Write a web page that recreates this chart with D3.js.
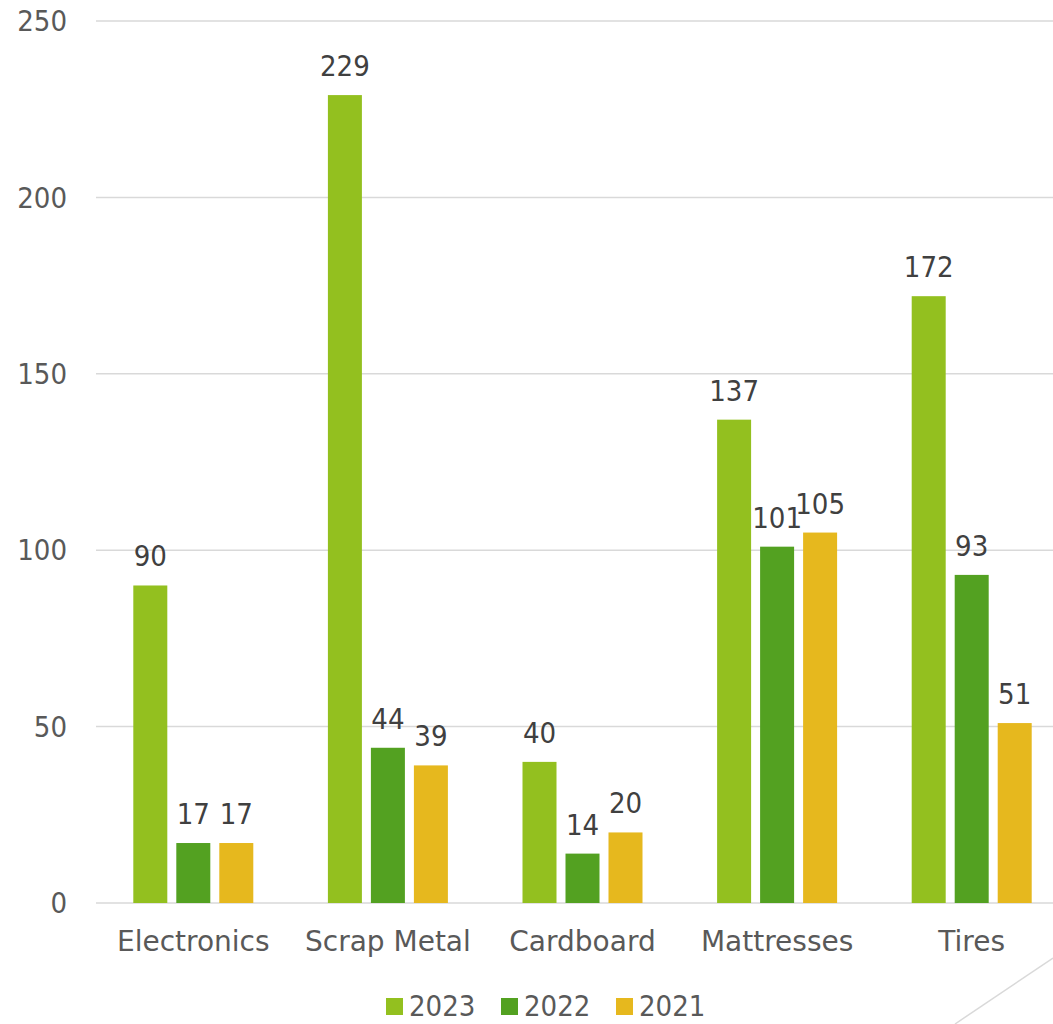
<!DOCTYPE html>
<html>
<head>
<meta charset="utf-8">
<script src="https://cdn.jsdelivr.net/npm/d3@7"></script>
<style>
  body { margin: 0; background: #fff; }
  svg { display: block; }
</style>
</head>
<body>
<div id="chart"></div>
<script>
const categories = ["Electronics", "Scrap Metal", "Cardboard", "Mattresses", "Tires"];
const years = ["2023", "2022", "2021"];
const values2023 = [90, 229, 40, 137, 172];
const values2022 = [17, 44, 14, 101, 93];
const values2021 = [17, 39, 20, 105, 51];
const yTicks = [0, 50, 100, 150, 200, 250];

const colors = { "2023": "#93c01f", "2022": "#53a121", "2021": "#e6b81e" };
const seriesVals = { "2023": values2023, "2022": values2022, "2021": values2021 };

const W = 1053, H = 1024;
const numFont = "'DejaVu Sans Condensed', 'DejaVu Sans', sans-serif";
const catFont = "'DejaVu Sans', sans-serif";

const svg = d3.select("#chart").append("svg").attr("width", W).attr("height", H);

const x0 = d3.scaleBand().domain(categories).range([96, 1069]);
const x1 = d3.scaleBand().domain(years).range([x0.bandwidth() / 2 - 60, x0.bandwidth() / 2 + 60]).paddingInner(9 / 43);
const y = d3.scaleLinear().domain([0, 250]).range([903, 21]);

// gridlines
svg.append("g").selectAll("line").data(yTicks).join("line")
  .attr("x1", 96).attr("x2", W)
  .attr("y1", d => y(d)).attr("y2", d => y(d))
  .attr("stroke", "#d9d9d9").attr("stroke-width", 1.5);

// y tick labels
svg.append("g").selectAll("text").data(yTicks).join("text")
  .attr("x", 67).attr("y", d => y(d)).attr("dy", "0.35em")
  .attr("text-anchor", "end")
  .attr("font-family", numFont).attr("font-size", 29).attr("fill", "#595959")
  .text(d => d);

// bars
const rows = categories.map((c, i) => ({ cat: c, vals: years.map(yr => ({ year: yr, v: seriesVals[yr][i] })) }));
const groups = svg.append("g").selectAll("g").data(rows).join("g")
  .attr("transform", d => `translate(${x0(d.cat)},0)`);

groups.selectAll("rect").data(d => d.vals).join("rect")
  .attr("x", d => x1(d.year)).attr("width", x1.bandwidth())
  .attr("y", d => y(d.v)).attr("height", d => y(0) - y(d.v))
  .attr("fill", d => colors[d.year]);

groups.selectAll("text").data(d => d.vals).join("text")
  .attr("x", d => x1(d.year) + x1.bandwidth() / 2)
  .attr("y", d => y(d.v) - 19)
  .attr("text-anchor", "middle")
  .attr("font-family", numFont).attr("font-size", 29).attr("fill", "#404040")
  .text(d => d.v);

// category labels
svg.append("g").selectAll("text").data(categories).join("text")
  .attr("x", d => x0(d) + x0.bandwidth() / 2).attr("y", 951)
  .attr("text-anchor", "middle")
  .attr("font-family", catFont).attr("font-size", 28).attr("fill", "#595959")
  .text(d => d);

// legend
const legend = svg.append("g").selectAll("g").data(years).join("g")
  .attr("transform", (d, i) => `translate(${386 + i * 115},0)`);
legend.append("rect").attr("x", 0).attr("y", 998).attr("width", 17).attr("height", 17)
  .attr("fill", d => colors[d]);
legend.append("text").attr("x", 23).attr("y", 1016)
  .attr("font-family", numFont).attr("font-size", 29).attr("fill", "#595959")
  .text(d => d);

// decorative corner line
svg.append("line").attr("x1", 955).attr("y1", 1024).attr("x2", 1053).attr("y2", 958)
  .attr("stroke", "#d9d9d9").attr("stroke-width", 1.5);
</script>
</body>
</html>
